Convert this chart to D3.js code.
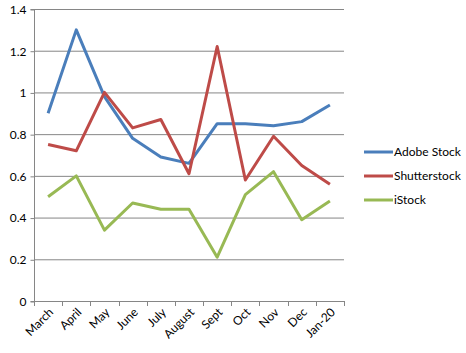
<!DOCTYPE html>
<html>
<head>
<meta charset="utf-8">
<script src="https://cdn.jsdelivr.net/npm/d3@7"></script>
<style>
	body { margin: 0; background: #fff; }
	text { font-family: Lato, "Open Sans", sans-serif; font-size: 12px; fill: #000; }
</style>
</head>
<body>
<div id="chart"></div>
<script>
var months = ["March", "April", "May", "June", "July", "August", "Sept", "Oct", "Nov", "Dec", "Jan-20"]
var adobe = [0.90, 1.30, 0.98, 0.78, 0.69, 0.66, 0.85, 0.85, 0.84, 0.86, 0.94]
var shutter = [0.75, 0.72, 1.00, 0.83, 0.87, 0.61, 1.22, 0.58, 0.79, 0.65, 0.56]
var istock = [0.50, 0.60, 0.34, 0.47, 0.44, 0.44, 0.21, 0.51, 0.62, 0.39, 0.48]
var yTicks = [0, 0.2, 0.4, 0.6, 0.8, 1, 1.2, 1.4]

var series = [
	{ name: "Adobe Stock", values: adobe, color: "#4a7ebb" },
	{ name: "Shutterstock", values: shutter, color: "#be4b48" },
	{ name: "iStock", values: istock, color: "#98b954" }
]

var w = 466
var h = 353
var b = { left: 34, right: 344, top: 9, bottom: 301 }

var svg = d3.select("#chart").append("svg")
	.attr("width", w)
	.attr("height", h)

var x = d3.scaleBand()
	.domain(months)
	.range([b.left, b.right])

var y = d3.scaleLinear()
	.domain([0, 1.4])
	.range([b.bottom, b.top])

// gridlines
svg.append("g").selectAll("line")
	.data(yTicks.slice(1))
	.enter().append("line")
	.attr("x1", b.left).attr("x2", b.right)
	.attr("y1", d => y(d) + 0.5).attr("y2", d => y(d) + 0.5)
	.attr("stroke", "#868686")

// y axis
var yAxis = d3.axisLeft(y).tickValues(yTicks).tickSize(4).tickPadding(4)
	.tickFormat(d => d3.format("")(+d.toFixed(1)))
var gy = svg.append("g")
	.attr("transform", "translate(" + (b.left + 0.5) + ",0.5)")
	.call(yAxis)
gy.select(".domain").attr("stroke", "#868686").attr("d", "M-4," + (b.top) + "H0V" + b.bottom + "H-4")
gy.selectAll(".tick line").attr("stroke", "#868686")
gy.selectAll(".tick text").attr("font-size", 12).attr("font-family", "Lato, sans-serif")

// x axis with ticks on category boundaries
svg.append("line")
	.attr("x1", b.left).attr("x2", b.right)
	.attr("y1", b.bottom + 0.5).attr("y2", b.bottom + 0.5)
	.attr("stroke", "#868686")
svg.append("g").selectAll("line")
	.data(months.concat(["end"]))
	.enter().append("line")
	.attr("x1", (d, i) => Math.round(b.left + i * x.step()) + 0.5)
	.attr("x2", (d, i) => Math.round(b.left + i * x.step()) + 0.5)
	.attr("y1", b.bottom).attr("y2", b.bottom + 5)
	.attr("stroke", "#868686")

svg.append("g").selectAll("text")
	.data(months)
	.enter().append("text")
	.attr("text-anchor", "end")
	.attr("transform", d => "translate(" + (x(d) + x.bandwidth() / 2 + 6) + "," + (b.bottom + 12) + ") rotate(-45)")
	.text(d => d)

// lines
var line = d3.line()
	.x((d, i) => x(months[i]) + x.bandwidth() / 2)
	.y(d => y(d))

svg.append("g").selectAll("path")
	.data(series)
	.enter().append("path")
	.attr("d", d => line(d.values))
	.attr("fill", "none")
	.attr("stroke", d => d.color)
	.attr("stroke-width", 3)
	.attr("stroke-linejoin", "round")

// legend
var legend = svg.append("g").selectAll("g")
	.data(series)
	.enter().append("g")
	.attr("transform", (d, i) => "translate(364," + (152 + i * 24) + ")")
legend.append("line")
	.attr("x1", 0).attr("x2", 29)
	.attr("stroke", d => d.color)
	.attr("stroke-width", 3)
legend.append("text")
	.attr("x", 30)
	.attr("dy", "0.35em")
	.text(d => d.name)
</script>
</body>
</html>
